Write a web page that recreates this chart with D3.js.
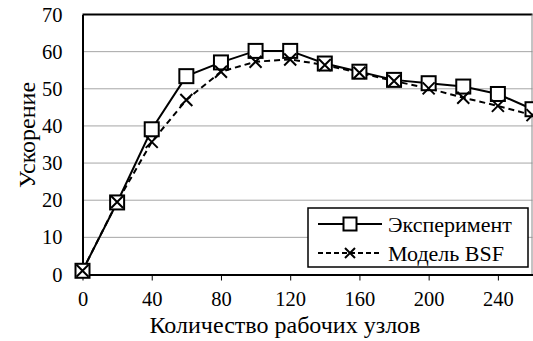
<!DOCTYPE html>
<html>
<head>
<meta charset="utf-8">
<script src="https://cdn.jsdelivr.net/npm/d3@7"></script>
<style>
  body { margin: 0; background: #fff; }
</style>
</head>
<body>
<div id="chart"></div>
<script>
// data
var nodes = [0, 20, 40, 60, 80, 100, 120, 140, 160, 180, 200, 220, 240, 260];
var experiment = [1, 19.4, 39.1, 53.4, 57.1, 60.2, 60.2, 56.8, 54.6, 52.4, 51.5, 50.6, 48.6, 44.5];
var modelBSF = [1, 19.5, 35.7, 47, 54.6, 57.3, 57.9, 56.4, 54.3, 52.1, 50.1, 47.6, 45.4, 42.9];
var xTicks = [0, 40, 80, 120, 160, 200, 240];
var yTicks = [0, 10, 20, 30, 40, 50, 60, 70];
var seriesNames = ["Эксперимент", "Модель BSF"];

var width = 533, height = 341;
var margin = {top: 14.5, right: 0.5, bottom: 66.5, left: 82.5};
var serif = "Liberation Serif";

var svg = d3.select("#chart")
  .append("svg")
    .attr("width", width)
    .attr("height", height)
    .style("font-family", serif);

var x = d3.scaleLinear().domain([0, 260]).range([margin.left, width - margin.right]);
var y = d3.scaleLinear().domain([0, 70]).range([height - margin.bottom, margin.top]);

// gridlines
svg.append("g")
  .selectAll("line")
  .data(yTicks.slice(1, -1))
  .enter()
  .append("line")
    .attr("x1", margin.left)
    .attr("x2", width - margin.right)
    .attr("y1", d => y(d))
    .attr("y2", d => y(d))
    .attr("stroke", "#a6a6a6")
    .attr("stroke-width", 1);

// frame: black top, grey right
svg.append("line")
  .attr("x1", margin.left).attr("x2", width - margin.right)
  .attr("y1", y(70)).attr("y2", y(70))
  .attr("stroke", "#000").attr("stroke-width", 2);
svg.append("line")
  .attr("x1", width - 1).attr("x2", width - 1)
  .attr("y1", y(70)).attr("y2", y(0))
  .attr("stroke", "#888").attr("stroke-width", 1);

// x axis
var xAxis = svg.append("g")
  .attr("transform", "translate(0," + y(0) + ")")
  .call(d3.axisBottom(x).tickValues(xTicks).tickSize(6).tickPadding(11).tickSizeOuter(0))
  .attr("font-family", null);
xAxis.select(".domain").attr("stroke", "#000").attr("stroke-width", 2);
xAxis.selectAll(".tick line").attr("stroke-width", 1);
xAxis.selectAll("text")
  .style("font-family", serif).style("font-size", "20.5px").attr("fill", "#000");

// y axis
var yAxis = svg.append("g")
  .attr("transform", "translate(" + x(0) + ",0)")
  .call(d3.axisLeft(y).tickValues(yTicks).tickSize(0).tickPadding(20))
  .attr("font-family", null);
yAxis.select(".domain").attr("stroke", "#000").attr("stroke-width", 2);
yAxis.selectAll("text")
  .style("font-family", serif).style("font-size", "20.5px").attr("fill", "#000");

// axis titles
svg.append("text")
  .attr("x", 285)
  .attr("y", 333)
  .attr("text-anchor", "middle")
  .style("font-family", serif)
  .style("font-size", "24px")
  .text("Количество рабочих узлов");

svg.append("text")
  .attr("transform", "translate(35,135) rotate(-90)")
  .attr("text-anchor", "middle")
  .style("font-family", serif)
  .style("font-size", "24px")
  .text("Ускорение");

// lines
var line = function(vals) {
  return d3.line()
    .x((d, i) => x(nodes[i]))
    .y(d => y(d))(vals);
};

svg.append("path")
  .attr("d", line(modelBSF))
  .attr("fill", "none")
  .attr("stroke", "#000")
  .attr("stroke-width", 2)
  .attr("stroke-dasharray", "6,4");

svg.append("path")
  .attr("d", line(experiment))
  .attr("fill", "none")
  .attr("stroke", "#000")
  .attr("stroke-width", 2);

// markers
var square = function(g, cx, cy, s) {
  g.append("rect")
    .attr("x", cx - s / 2).attr("y", cy - s / 2)
    .attr("width", s).attr("height", s)
    .attr("fill", "#fff").attr("stroke", "#000").attr("stroke-width", 2);
};
var cross = function(g, cx, cy, s) {
  g.append("path")
    .attr("d", "M" + (cx - s / 2) + "," + (cy - s / 2) + "L" + (cx + s / 2) + "," + (cy + s / 2) +
               "M" + (cx - s / 2) + "," + (cy + s / 2) + "L" + (cx + s / 2) + "," + (cy - s / 2))
    .attr("stroke", "#000").attr("stroke-width", 2).attr("fill", "none");
};

var marks = svg.append("g");
experiment.forEach((d, i) => square(marks, x(nodes[i]), y(d), 14));
modelBSF.forEach((d, i) => cross(marks, x(nodes[i]), y(d), 12));

// legend
var legend = svg.append("g");
legend.append("rect")
  .attr("x", 308).attr("y", 208)
  .attr("width", 220).attr("height", 59)
  .attr("fill", "#fff").attr("stroke", "#000").attr("stroke-width", 1.5);

var rows = [224, 253];
legend.append("line")
  .attr("x1", 318).attr("x2", 382).attr("y1", rows[0]).attr("y2", rows[0])
  .attr("stroke", "#000").attr("stroke-width", 2);
square(legend, 350, rows[0], 13);
legend.append("line")
  .attr("x1", 318).attr("x2", 382).attr("y1", rows[1]).attr("y2", rows[1])
  .attr("stroke", "#000").attr("stroke-width", 2).attr("stroke-dasharray", "5,3");
cross(legend, 350, rows[1], 10);

legend.selectAll("text.lbl")
  .data(seriesNames)
  .enter()
  .append("text")
    .attr("class", "lbl")
    .attr("x", 388)
    .attr("y", (d, i) => rows[i])
    .attr("dy", "0.35em")
    .style("font-family", serif)
    .style("font-size", "22px")
    .text(d => d);
</script>
</body>
</html>
